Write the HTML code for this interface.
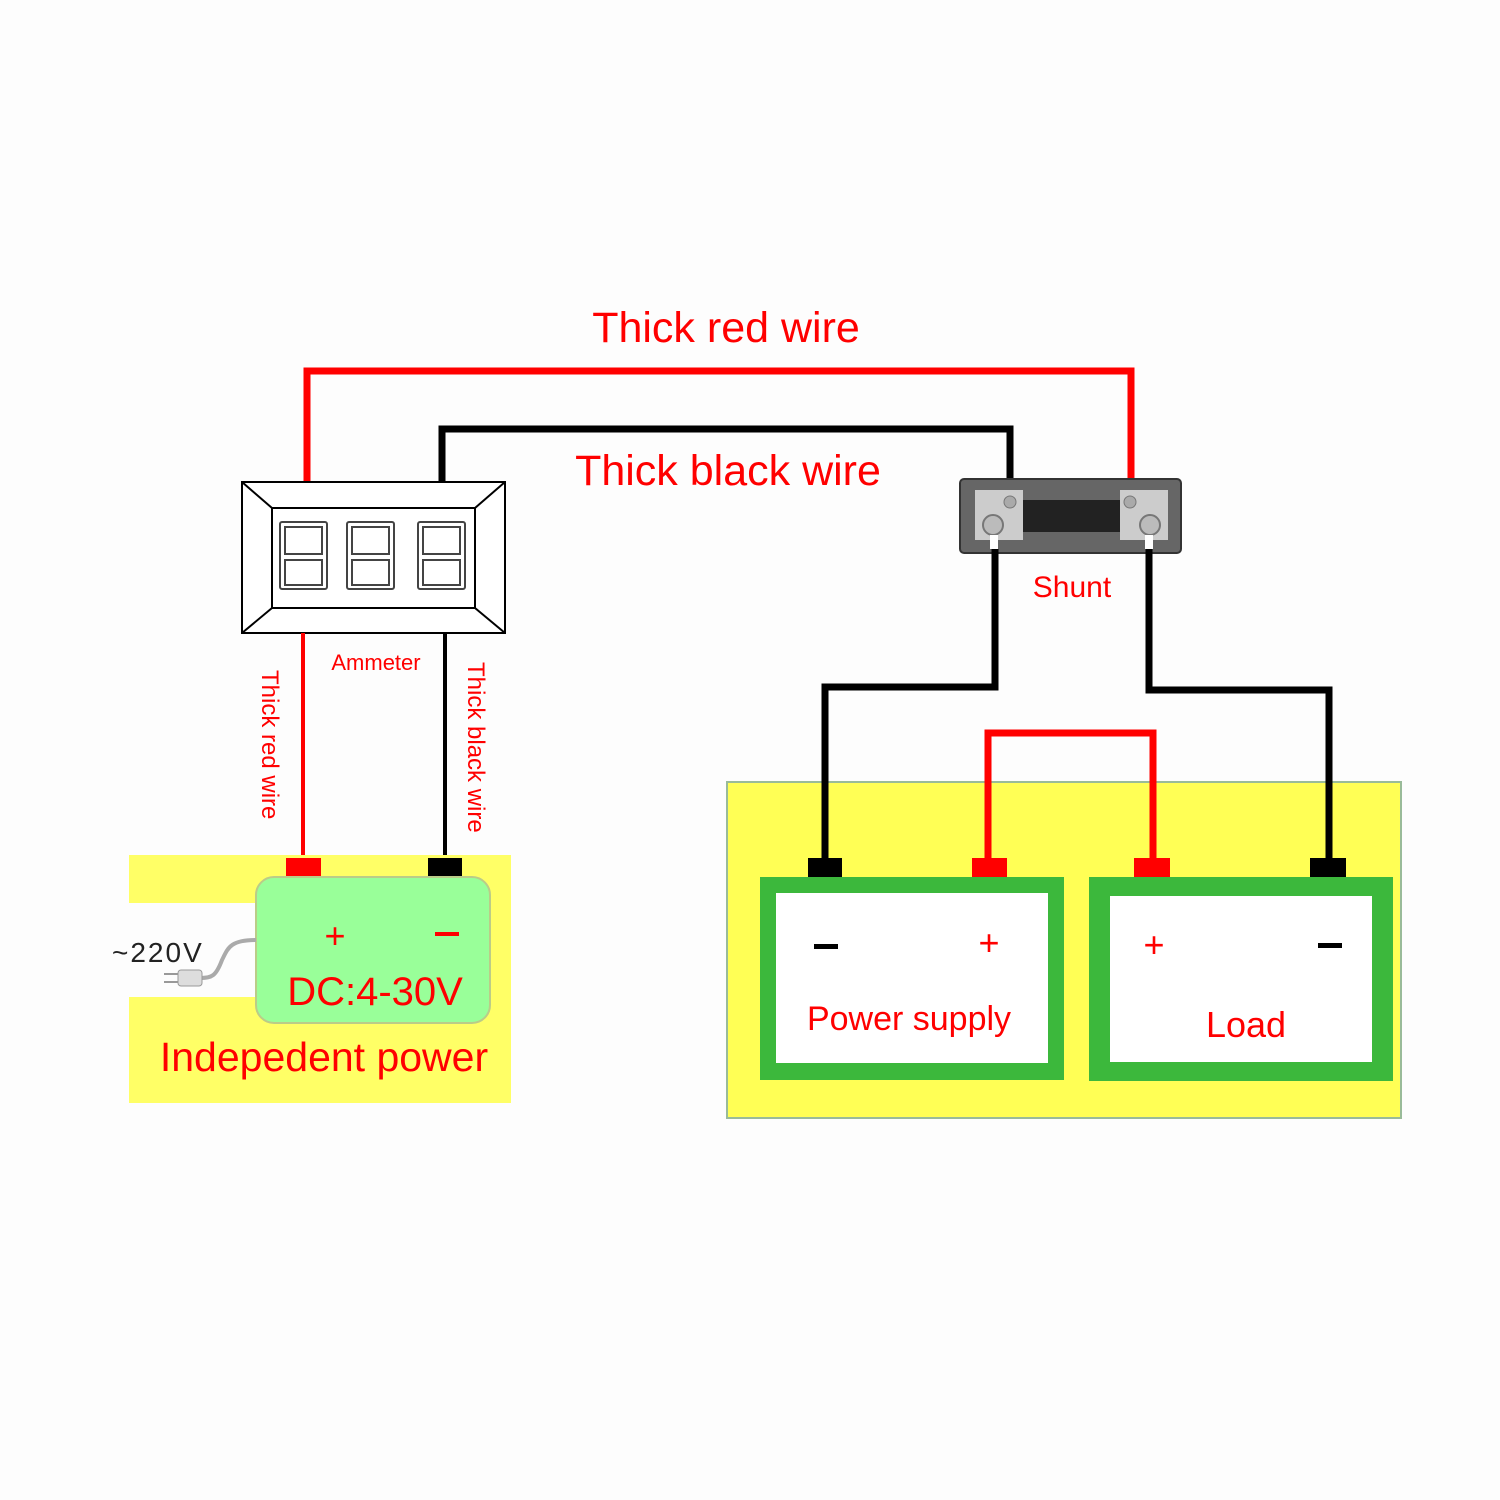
<!DOCTYPE html>
<html><head><meta charset="utf-8"><style>
html,body{margin:0;padding:0;background:#fdfdfd;}
svg{display:block}
text{font-family:"Liberation Sans",Arial,sans-serif;}
</style></head><body>
<svg width="1500" height="1500" viewBox="0 0 1500 1500" xmlns="http://www.w3.org/2000/svg">
<rect width="1500" height="1500" fill="#fdfdfd"/>
<!-- top wires -->
<polyline points="307,482 307,371 1131,371 1131,492" fill="none" stroke="#ff0000" stroke-width="7"/>
<polyline points="442,482 442,429 1010,429 1010,492" fill="none" stroke="#000" stroke-width="7"/>
<text x="726" y="342" font-size="43" fill="#ff0000" text-anchor="middle">Thick red wire</text>
<text x="728" y="485" font-size="43" fill="#ff0000" text-anchor="middle">Thick black wire</text>
<!-- ammeter -->
<g stroke="#000" stroke-width="2" fill="#fff">
<rect x="242" y="482" width="263" height="151"/>
<rect x="272" y="508" width="203" height="100"/>
<line x1="242" y1="482" x2="272" y2="508"/><line x1="505" y1="482" x2="475" y2="508"/>
<line x1="242" y1="633" x2="272" y2="608"/><line x1="505" y1="633" x2="475" y2="608"/>
</g>
<g fill="none" stroke="#444" stroke-width="2">
<rect x="280" y="522" width="47" height="67" rx="2"/><rect x="285" y="527" width="37" height="27"/><rect x="285" y="560" width="37" height="25"/>
<rect x="347" y="522" width="47" height="67" rx="2"/><rect x="352" y="527" width="37" height="27"/><rect x="352" y="560" width="37" height="25"/>
<rect x="418" y="522" width="47" height="67" rx="2"/><rect x="423" y="527" width="37" height="27"/><rect x="423" y="560" width="37" height="25"/>
</g>
<line x1="303" y1="633" x2="303" y2="860" stroke="#ff0000" stroke-width="4"/>
<line x1="445" y1="633" x2="445" y2="860" stroke="#000" stroke-width="4"/>
<text x="376" y="670" font-size="22" fill="#ff0000" text-anchor="middle">Ammeter</text>
<text transform="translate(262,670) rotate(90)" font-size="24" fill="#ff0000">Thick red wire</text>
<text transform="translate(468,662) rotate(90)" font-size="24" fill="#ff0000">Thick black wire</text>
<!-- independent power -->
<rect x="129" y="855" width="382" height="248" fill="#ffff66"/>
<rect x="129" y="903" width="135" height="94" fill="#fdfdfd"/>
<rect x="286" y="858" width="35" height="20" fill="#ff0000"/>
<rect x="428" y="858" width="34" height="20" fill="#000"/>
<rect x="256" y="877" width="234" height="146" rx="18" fill="#99ff99" stroke="#bbcc88" stroke-width="2"/>
<text x="335" y="948" font-size="36" fill="#ff0000" text-anchor="middle">+</text>
<rect x="435" y="932" width="24" height="4" fill="#ff0000"/>
<text x="375" y="1005" font-size="40" fill="#ff0000" text-anchor="middle">DC:4-30V</text>
<text x="324" y="1071" font-size="41" fill="#ff0000" text-anchor="middle">Indepedent power</text>
<text x="112" y="962" font-size="28" fill="#222" letter-spacing="2">~220V</text>
<path d="M256,940 C230,940 228,948 222,960 C216,976 212,978 200,978" fill="none" stroke="#aaa" stroke-width="4"/>
<rect x="178" y="970" width="24" height="16" rx="3" fill="#ddd" stroke="#999"/>
<line x1="164" y1="974" x2="178" y2="974" stroke="#999" stroke-width="2"/>
<line x1="164" y1="982" x2="178" y2="982" stroke="#999" stroke-width="2"/>
<!-- shunt -->
<rect x="960" y="479" width="221" height="74" rx="4" fill="#666" stroke="#333" stroke-width="2"/>
<rect x="975" y="490" width="48" height="50" fill="#ccc"/>
<rect x="1120" y="490" width="48" height="50" fill="#ccc"/>
<rect x="1023" y="500" width="97" height="32" fill="#222"/>
<circle cx="1010" cy="502" r="6" fill="#aaa" stroke="#777"/>
<circle cx="1130" cy="502" r="6" fill="#aaa" stroke="#777"/>
<circle cx="993" cy="525" r="10" fill="#bbb" stroke="#777" stroke-width="2"/>
<circle cx="1150" cy="525" r="10" fill="#bbb" stroke="#777" stroke-width="2"/>
<rect x="990" y="535" width="8" height="14" fill="#fff"/>
<rect x="1145" y="535" width="8" height="14" fill="#fff"/>
<text x="1072" y="597" font-size="30" fill="#ff0000" text-anchor="middle">Shunt</text>
<!-- right yellow -->
<rect x="727" y="782" width="674" height="336" fill="#ffff55" stroke="#99bb99" stroke-width="2"/>
<polyline points="995,549 995,687 825,687 825,860" fill="none" stroke="#000" stroke-width="7"/>
<polyline points="1149,549 1149,690 1329,690 1329,860" fill="none" stroke="#000" stroke-width="7"/>
<polyline points="988,860 988,733 1153,733 1153,860" fill="none" stroke="#ff0000" stroke-width="7"/>
<rect x="808" y="858" width="34" height="20" fill="#000"/>
<rect x="972" y="858" width="35" height="20" fill="#ff0000"/>
<rect x="1134" y="858" width="36" height="20" fill="#ff0000"/>
<rect x="1310" y="858" width="36" height="20" fill="#000"/>
<rect x="760" y="877" width="304" height="203" fill="#3cb83c"/>
<rect x="776" y="893" width="272" height="170" fill="#fff"/>
<rect x="1089" y="877" width="304" height="204" fill="#3cb83c"/>
<rect x="1110" y="896" width="262" height="166" fill="#fff"/>
<rect x="814" y="944" width="24" height="5" fill="#000"/>
<text x="989" y="955" font-size="36" fill="#ff0000" text-anchor="middle">+</text>
<text x="909" y="1030" font-size="34" fill="#ff0000" text-anchor="middle">Power supply</text>
<text x="1154" y="957" font-size="36" fill="#ff0000" text-anchor="middle">+</text>
<rect x="1318" y="943" width="24" height="5" fill="#000"/>
<text x="1246" y="1037" font-size="36" fill="#ff0000" text-anchor="middle">Load</text>
</svg>
</body></html>
